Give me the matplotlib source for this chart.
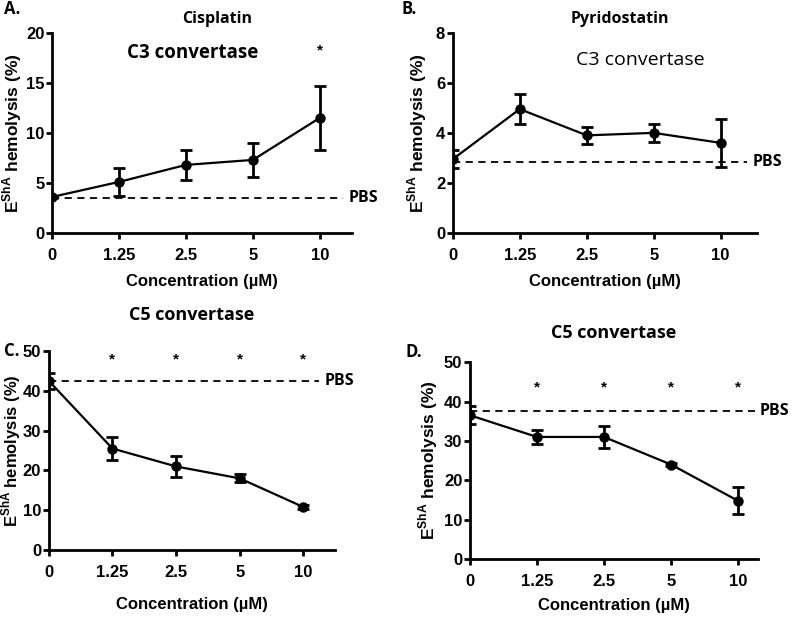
import matplotlib.pyplot as plt
from matplotlib.transforms import blended_transform_factory

conc_labels = ["0", "1.25", "2.5", "5", "10"]

# panel A - cisplatin, C3 convertase
a_mean = [3.6, 5.1, 6.8, 7.3, 11.5]
a_err = [0.1, 1.4, 1.5, 1.7, 3.2]
a_pbs = 3.5

# panel B - pyridostatin, C3 convertase
b_mean = [2.95, 4.95, 3.9, 4.0, 3.6]
b_err = [0.35, 0.6, 0.33, 0.35, 0.95]
b_pbs = 2.85

# panel C - C5 convertase
c_mean = [42.5, 25.5, 21.0, 18.0, 10.8]
c_err = [2.0, 3.0, 2.6, 1.0, 0.4]
c_pbs = 42.5

# panel D - C5 convertase
d_mean = [36.5, 31.0, 31.0, 24.0, 14.8]
d_err = [2.3, 1.8, 2.8, 0.3, 3.4]
d_pbs = 37.5

plt.rcParams['font.family'] = ['Liberation Sans', 'DejaVu Sans']
plt.rcParams['font.weight'] = 'bold'
plt.rcParams['mathtext.fontset'] = 'custom'
plt.rcParams['mathtext.bf'] = 'Liberation Sans:bold'
plt.rcParams['mathtext.rm'] = 'Liberation Sans:bold'

fig = plt.figure(figsize=(8, 6.18), dpi=100)

ylab = r'E$^{\mathbf{ShA}}$ hemolysis (%)'
titlefont = ['Open Sans', 'DejaVu Sans']


def panel(rect, mean, err, pbs, ymax, ystep, xmax, pbs_end, xlpad, ylx, ylsize=12.5):
    ax = fig.add_axes(rect)
    x = list(range(len(mean)))
    ax.errorbar(x, mean, yerr=err, color='black', marker='o', ms=6.5,
                lw=1.6, elinewidth=2, capsize=4, capthick=2)
    ax.plot([0, pbs_end], [pbs, pbs], color='black', ls=(0, (4, 3)), lw=1.3)
    ax.text(pbs_end + 0.08, pbs, "PBS", fontsize=11.5, fontweight='bold',
            va='center', ha='left', family=titlefont, clip_on=False)
    ax.set_xlim(0, xmax)
    ax.set_ylim(0, ymax)
    ax.set_xticks(x)
    ax.set_xticklabels(conc_labels)
    ax.set_yticks(range(0, ymax + 1, ystep))
    for s in ['top', 'right']:
        ax.spines[s].set_visible(False)
    for s in ['left', 'bottom']:
        ax.spines[s].set_linewidth(2)
    ax.tick_params(width=2, length=4, labelsize=12)
    ax.tick_params(axis='x', pad=7)
    ax.tick_params(axis='y', pad=1.5)
    ax.set_ylabel(ylab, fontsize=ylsize, fontweight='bold', va='center')
    ax.yaxis.set_label_coords(ylx, 0.5,
                              transform=blended_transform_factory(fig.transFigure, ax.transAxes))
    ax.set_xlabel("Concentration (µM)", fontsize=12, fontweight='bold',
                  labelpad=xlpad)
    return ax


axA = panel([0.065, 0.623, 0.375, 0.324], a_mean, a_err, a_pbs, 20, 5, 4.48, 4.35, 8, 0.0155)
axA.text(0.005, 0.985, "A.", transform=fig.transFigure, fontsize=12, fontweight='bold',
         ha='left', va='center', family=titlefont)
axA.text(0.55, 1.07, "Cisplatin", transform=axA.transAxes, fontsize=11.5,
         fontweight='bold', ha='center', va='center', family=titlefont)
axA.text(2.1, 18, "C3 convertase", fontsize=13.5, fontweight='bold',
         ha='center', va='center', family=titlefont)
axA.text(4, 18.2, "*", fontsize=11, ha='center', va='center')

axB = panel([0.566, 0.623, 0.38, 0.324], b_mean, b_err, b_pbs, 8, 2, 4.54, 4.4, 8, 0.522)
axB.text(0.5025, 0.985, "B.", transform=fig.transFigure, fontsize=12, fontweight='bold',
         ha='left', va='center', family=titlefont)
axB.text(0.55, 1.07, "Pyridostatin", transform=axB.transAxes, fontsize=11.5,
         fontweight='bold', ha='center', va='center', family=titlefont)
axB.text(2.8, 6.9, "C3 convertase", fontsize=14, fontweight='normal',
         ha='center', va='center', family=titlefont)

axC = panel([0.061, 0.110, 0.358, 0.322], c_mean, c_err, c_pbs, 50, 10, 4.5, 4.25, 12, 0.0138, 12)
axC.text(0.005, 0.432, "C.", transform=fig.transFigure, fontsize=12, fontweight='bold',
         ha='left', va='center', family=titlefont)
axC.text(0.5, 1.18, "C5 convertase", transform=axC.transAxes, fontsize=13,
         fontweight='bold', ha='center', va='center', family=titlefont)
for i in range(1, 5):
    axC.text(i, 48, "*", fontsize=11, ha='center', va='center')

axD = panel([0.5875, 0.0955, 0.36, 0.3185], d_mean, d_err, d_pbs, 50, 10, 4.3, 4.25, 6, 0.535)
axD.text(0.5075, 0.43, "D.", transform=fig.transFigure, fontsize=12, fontweight='bold',
         ha='left', va='center', family=titlefont)
axD.text(0.5, 1.15, "C5 convertase", transform=axD.transAxes, fontsize=13,
         fontweight='bold', ha='center', va='center', family=titlefont)
for i in range(1, 5):
    axD.text(i, 43.5, "*", fontsize=11, ha='center', va='center')

plt.savefig("out.png", dpi=100)
